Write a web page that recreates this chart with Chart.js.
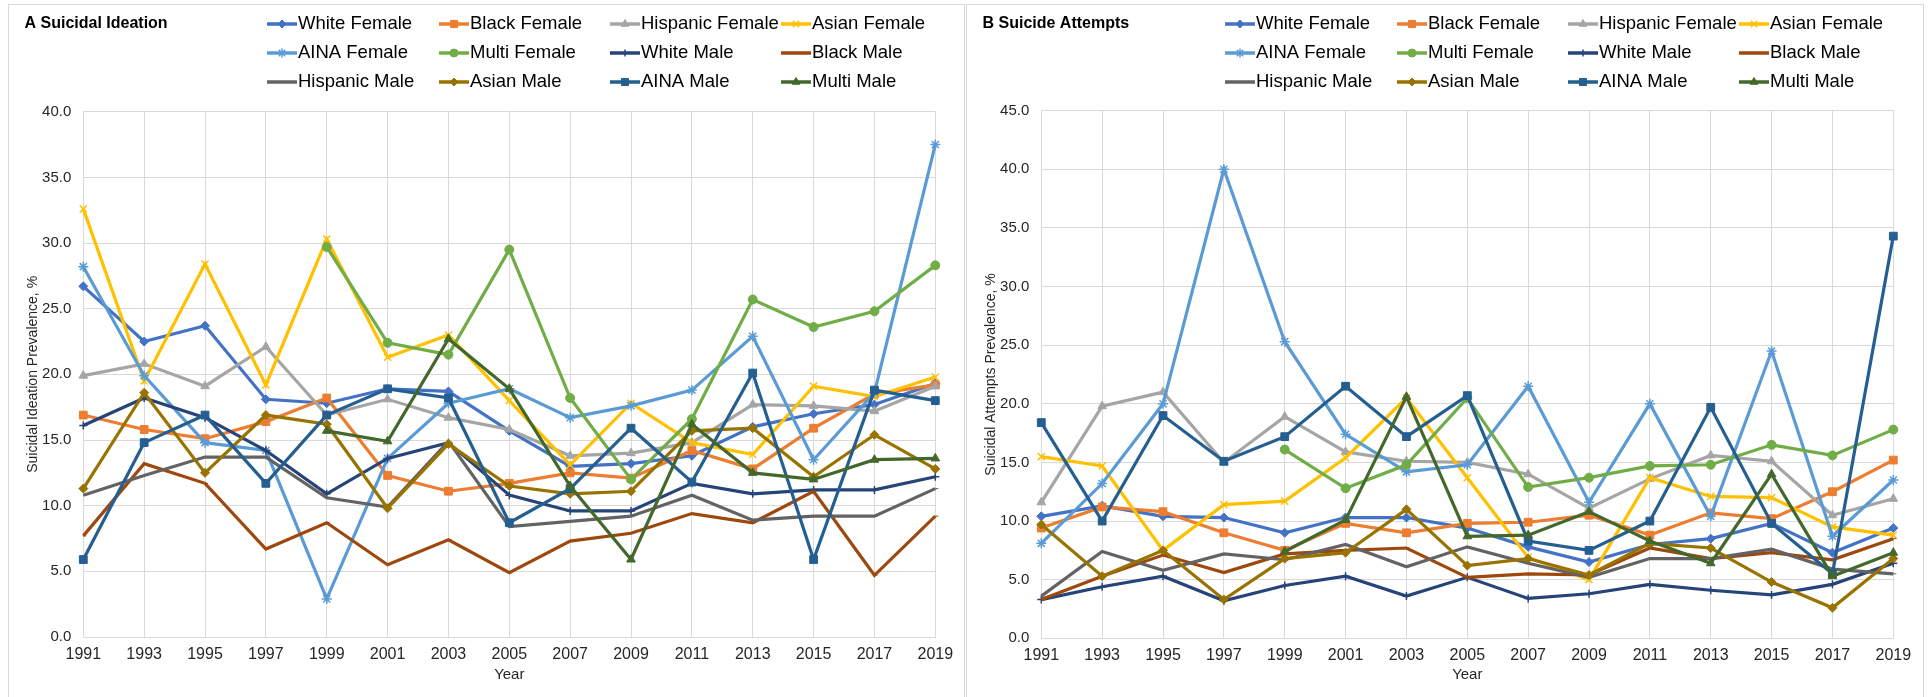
<!DOCTYPE html>
<html lang="en">
<head>
  <meta charset="UTF-8">
  <title>Suicidal Ideation and Suicide Attempts</title>
  <script src="https://cdn.jsdelivr.net/npm/chart.js"></script>
  <style>
    body {
      margin: 0;
      background-color: #ffffff;
      font-family: "Liberation Sans", Arial, sans-serif;
    }

    .card {
      position: absolute;
      top: 4px;
      height: 700px;
      border: 1px solid #d9d9d9;
      background-color: white;
    }

    #cardA { left: 8px; width: 955px; }
    #cardB { left: 966px; width: 956px; }

    canvas { display: block; }
  </style>
</head>
<body>
  <div class="card" id="cardA"><canvas id="ideationChart" width="955" height="692"></canvas></div>
  <div class="card" id="cardB"><canvas id="attemptsChart" width="956" height="692"></canvas></div>

  <script>
    // Survey years (x axis)
    const years = ["1991", "1993", "1995", "1997", "1999", "2001", "2003", "2005",
                   "2007", "2009", "2011", "2013", "2015", "2017", "2019"];

    const seriesNames = ["White Female", "Black Female", "Hispanic Female", "Asian Female",
                         "AINA Female", "Multi Female", "White Male", "Black Male",
                         "Hispanic Male", "Asian Male", "AINA Male", "Multi Male"];

    // A: Suicidal ideation prevalence, %
    const ideationWhiteFemale    = [26.7, 22.5, 23.7, 18.1, 17.8, 18.9, 18.7, 15.7, 13.0, 13.2, 13.8, 16.0, 17.0, 17.7, 19.3];
    const ideationBlackFemale    = [16.9, 15.8, 15.1, 16.4, 18.2, 12.3, 11.1, 11.7, 12.5, 12.1, 14.2, 12.8, 15.9, 18.5, 19.2];
    const ideationHispanicFemale = [19.9, 20.8, 19.1, 22.1, 16.9, 18.1, 16.7, 15.8, 13.8, 14.0, 14.8, 17.7, 17.6, 17.2, 19.1];
    const ideationAsianFemale    = [32.6, 19.5, 28.4, 19.2, 30.3, 21.3, 23.0, 18.0, 13.1, 17.8, 14.8, 13.9, 19.1, 18.3, 19.8];
    const ideationAinaFemale     = [28.2, 19.9, 14.8, 14.2, 2.9, 13.6, 17.8, 18.9, 16.7, 17.6, 18.8, 22.9, 13.5, 18.6, 37.5];
    const ideationMultiFemale    = [null, null, null, null, 29.7, 22.4, 21.5, 29.5, 18.2, 12.0, 16.6, 25.7, 23.6, 24.8, 28.3];
    const ideationWhiteMale      = [16.1, 18.2, 16.7, 14.2, 10.9, 13.6, 14.8, 10.8, 9.6, 9.6, 11.7, 10.9, 11.2, 11.2, 12.2];
    const ideationBlackMale      = [7.7, 13.2, 11.7, 6.7, 8.7, 5.5, 7.4, 4.9, 7.3, 7.9, 9.4, 8.7, 11.1, 4.7, 9.2];
    const ideationHispanicMale   = [10.8, 12.3, 13.7, 13.7, 10.6, 9.9, 14.9, 8.4, 8.8, 9.2, 10.8, 8.9, 9.2, 9.2, 11.3];
    const ideationAsianMale      = [11.3, 18.6, 12.5, 16.9, 16.2, 9.8, 14.7, 11.5, 10.9, 11.1, 15.7, 15.9, 12.2, 15.4, 12.8];
    const ideationAinaMale       = [5.9, 14.8, 16.9, 11.7, 16.9, 18.9, 18.2, 8.7, 11.3, 15.9, 11.8, 20.1, 5.9, 18.8, 18.0];
    const ideationMultiMale      = [null, null, null, null, 15.7, 14.9, 22.7, 18.9, 11.5, 5.9, 16.2, 12.5, 12.0, 13.5, 13.6];

    // B: Suicide attempts prevalence, %
    const attemptsWhiteFemale    = [10.4, 11.3, 10.4, 10.3, 9.0, 10.3, 10.3, 9.4, 7.8, 6.5, 8.0, 8.5, 9.8, 7.3, 9.4];
    const attemptsBlackFemale    = [9.4, 11.2, 10.8, 9.0, 7.5, 9.8, 9.0, 9.8, 9.9, 10.5, 8.8, 10.7, 10.2, 12.5, 15.2];
    const attemptsHispanicFemale = [11.6, 19.8, 21.0, 15.0, 18.9, 15.9, 15.1, 15.0, 14.0, 11.1, 13.6, 15.6, 15.1, 10.5, 11.9];
    const attemptsAsianFemale    = [15.5, 14.7, 7.5, 11.4, 11.7, 15.4, 20.5, 13.7, 6.9, 5.0, 13.7, 12.1, 12.0, 9.5, 8.8];
    const attemptsAinaFemale     = [8.1, 13.2, 20.0, 40.0, 25.3, 17.4, 14.2, 14.8, 21.5, 11.6, 20.0, 10.4, 24.5, 8.7, 13.5];
    const attemptsMultiFemale    = [null, null, null, null, 16.1, 12.8, 14.8, 20.5, 12.9, 13.7, 14.7, 14.8, 16.5, 15.6, 17.8];
    const attemptsWhiteMale      = [3.3, 4.4, 5.3, 3.2, 4.5, 5.3, 3.6, 5.2, 3.4, 3.8, 4.6, 4.1, 3.7, 4.6, 6.4];
    const attemptsBlackMale      = [3.3, 5.3, 7.1, 5.6, 7.2, 7.5, 7.7, 5.2, 5.5, 5.4, 7.7, 6.8, 7.3, 6.7, 8.5];
    const attemptsHispanicMale   = [3.6, 7.4, 5.8, 7.2, 6.7, 8.0, 6.1, 7.8, 6.4, 5.2, 6.8, 6.8, 7.6, 5.9, 5.5];
    const attemptsAsianMale      = [9.7, 5.3, 7.5, 3.3, 6.8, 7.3, 11.0, 6.2, 6.8, 5.4, 8.1, 7.7, 4.8, 2.6, 6.8];
    const attemptsAinaMale       = [18.4, 10.0, 19.0, 15.1, 17.2, 21.5, 17.2, 20.7, 8.3, 7.5, 10.0, 19.7, 9.8, 5.5, 34.3];
    const attemptsMultiMale      = [null, null, null, null, 7.4, 10.1, 20.6, 8.7, 8.8, 10.8, 8.3, 6.4, 14.0, 5.3, 7.3];

    // y axis ranges
    const ideationMax = 40;
    const attemptsMax = 45;
    const yStep = 5;

    // series styles (Excel office palette)
    const seriesColors = ["#4472C4", "#ED7D31", "#A5A5A5", "#FFC000", "#5B9BD5", "#70AD47",
                          "#264478", "#9E480E", "#636363", "#997300", "#255E91", "#43682B"];
    const pointStyles = ["rectRot", "rect", "triangle", "crossRot", "star", "circle",
                         "cross", "dash", "dash", "rectRot", "rect", "triangle"];
    const pointSizes = [4.5, 5.5, 5, 5, 5, 4.5, 4, 3, 3, 4.5, 5.5, 5];

    const textColor = "#262626";
    const gridColor = "#d9d9d9";
    Chart.defaults.font.family = '"Liberation Sans", Arial, sans-serif';

    const legendColX = [258, 430, 601, 772];
    const legendRowY = [19, 48, 77];

    // draws the panel title and the 4-column legend at the top of each card
    const panelHeader = {
      id: "panelHeader",
      afterDraw(chart, args, opts) {
        const ctx = chart.ctx;
        ctx.save();
        ctx.textBaseline = "middle";
        ctx.textAlign = "left";
        ctx.fillStyle = "#000";
        ctx.font = 'bold 16px "Liberation Sans", Arial, sans-serif';
        ctx.fillText(opts.title, opts.titleX, 19);

        ctx.font = '18.5px "Liberation Sans", Arial, sans-serif';
        chart.data.datasets.forEach((ds, i) => {
          const x = legendColX[i % 4];
          const y = legendRowY[Math.floor(i / 4)];
          ctx.strokeStyle = ds.borderColor;
          ctx.fillStyle = ds.borderColor;
          ctx.lineWidth = 3.5;
          ctx.beginPath();
          ctx.moveTo(x, y);
          ctx.lineTo(x + 30, y);
          ctx.stroke();
          if (ds.pointStyle !== "dash" && Chart.helpers && Chart.helpers.drawPoint) {
            ctx.lineWidth = ds.pointBorderWidth;
            Chart.helpers.drawPoint(ctx, {
              pointStyle: ds.pointStyle,
              radius: ds.pointRadius - 0.5,
              rotation: 0,
              borderWidth: ds.pointBorderWidth
            }, x + 15, y);
          }
          ctx.fillStyle = "#000";
          ctx.fillText(ds.label, x + 31, y);
        });
        ctx.restore();
      }
    };

    function buildDatasets(seriesList) {
      return seriesList.map((values, i) => ({
        label: seriesNames[i],
        data: values,
        borderColor: seriesColors[i],
        backgroundColor: seriesColors[i],
        borderWidth: 3.2,
        tension: 0,
        pointStyle: pointStyles[i],
        pointRadius: pointSizes[i],
        pointBorderWidth: (pointStyles[i] === "crossRot" || pointStyles[i] === "star" || pointStyles[i] === "cross") ? 1.5 : 1,
        pointBackgroundColor: seriesColors[i],
        pointBorderColor: seriesColors[i],
        // later series drawn on top, like the original
        order: seriesList.length - 1 - i
      }));
    }

    function makeChart(canvasId, title, yTitle, yMax, seriesList, plotTop, plotRight, plotBottom) {
      const canvas = document.getElementById(canvasId);
      return new Chart(canvas, {
        type: "line",
        data: { labels: years, datasets: buildDatasets(seriesList) },
        options: {
          responsive: false,
          animation: false,
          layout: { padding: { top: plotTop, right: canvas.width - plotRight, bottom: 0, left: 0 } },
          plugins: {
            legend: { display: false },
            tooltip: { enabled: false },
            panelHeader: { title: title, titleX: 15.5 }
          },
          scales: {
            x: {
              grid: { color: gridColor, drawTicks: false },
              border: { color: gridColor },
              ticks: { color: textColor, font: { size: 16 }, padding: 8, autoSkip: false, maxRotation: 0 },
              title: { display: true, text: "Year", color: textColor, font: { size: 15 }, padding: { top: 0, bottom: 13 } },
              afterFit: (scale) => { scale.height = canvas.height - plotBottom; }
            },
            y: {
              min: 0,
              max: yMax,
              grid: { color: gridColor, drawTicks: false },
              border: { color: gridColor },
              ticks: { stepSize: yStep, color: textColor, font: { size: 15 }, padding: 12,
                       callback: (v) => v.toFixed(1) },
              title: { display: true, text: yTitle, color: textColor, font: { size: 14 }, padding: { top: 15.5, bottom: 0 } },
              afterFit: (scale) => { scale.width = 74.3; }
            }
          }
        },
        plugins: [panelHeader]
      });
    }

    makeChart("ideationChart", "A Suicidal Ideation", "Suicidal Ideation Prevalence, %", ideationMax,
      [ideationWhiteFemale, ideationBlackFemale, ideationHispanicFemale, ideationAsianFemale,
       ideationAinaFemale, ideationMultiFemale, ideationWhiteMale, ideationBlackMale,
       ideationHispanicMale, ideationAsianMale, ideationAinaMale, ideationMultiMale],
      106.7, 926.3, 632);

    makeChart("attemptsChart", "B Suicide Attempts", "Suicidal Attempts Prevalence, %", attemptsMax,
      [attemptsWhiteFemale, attemptsBlackFemale, attemptsHispanicFemale, attemptsAsianFemale,
       attemptsAinaFemale, attemptsMultiFemale, attemptsWhiteMale, attemptsBlackMale,
       attemptsHispanicMale, attemptsAsianMale, attemptsAinaMale, attemptsMultiMale],
      105.7, 926.3, 633.3);
  </script>
</body>
</html>
